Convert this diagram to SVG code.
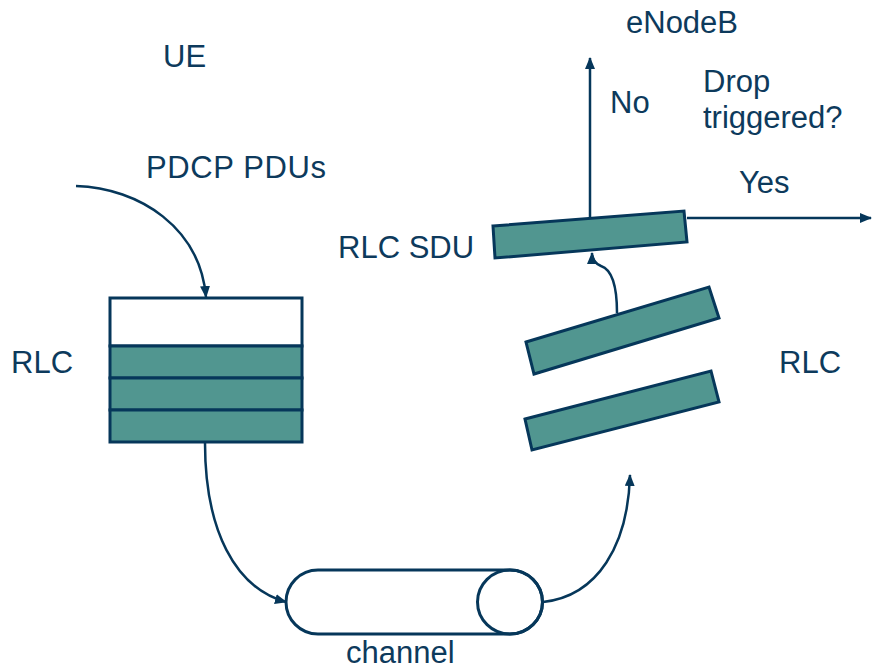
<svg xmlns="http://www.w3.org/2000/svg" width="872" height="669" viewBox="0 0 872 669">
  <style>
    .lbl { font-family: "Liberation Sans", Arial, sans-serif; font-size: 31px; fill: #0d3a5c; }
    .pdu { fill: #519690; stroke: #06375a; stroke-width: 3; stroke-linejoin: miter; }
    .box { fill: #ffffff; stroke: #06375a; stroke-width: 3; }
    .wire { fill: none; stroke: #06375a; stroke-width: 2.5; }
  </style>
  <defs>
    <marker id="arrow" viewBox="0 0 12 10" refX="11" refY="5" markerWidth="12" markerHeight="10" markerUnits="userSpaceOnUse" orient="auto">
      <path d="M0,0 L12,5 L0,10 z" fill="#06375a"/>
    </marker>
  </defs>

  <rect width="872" height="669" fill="#ffffff"/>

  <!-- labels -->
  <g id="labels">
    <text class="lbl" x="163" y="67">UE</text>
    <text class="lbl" x="146" y="178" textLength="180">PDCP PDUs</text>
    <text class="lbl" x="11" y="373">RLC</text>
    <text class="lbl" x="338" y="258">RLC SDU</text>
    <text class="lbl" x="779" y="373">RLC</text>
    <text class="lbl" x="626" y="33">eNodeB</text>
    <text class="lbl" x="610" y="113">No</text>
    <text class="lbl" x="703" y="92">Drop</text>
    <text class="lbl" x="703" y="128">triggered?</text>
    <text class="lbl" x="739" y="193">Yes</text>
    <text class="lbl" x="346" y="663">channel</text>
  </g>

  <!-- UE-side RLC buffer -->
  <g id="ue-buffer">
    <rect class="box" x="110" y="298" width="192" height="48"/>
    <rect class="pdu" x="110" y="346" width="192" height="32"/>
    <rect class="pdu" x="110" y="378" width="192" height="32"/>
    <rect class="pdu" x="110" y="410" width="192" height="32"/>
  </g>

  <!-- radio channel -->
  <g id="channel">
    <path class="box" d="M318,570 L510,570 A32.5,32 0 0 1 510,634 L318,634 A32,32 0 0 1 318,570 Z"/>
    <ellipse cx="510" cy="602" rx="32.5" ry="32" fill="none" stroke="#06375a" stroke-width="3"/>
  </g>

  <!-- eNodeB-side RLC PDUs -->
  <g id="enb-pdu-1">
    <polygon class="pdu" points="525,419 711,371 719,402 532,450"/>
  </g>
  <g id="enb-pdu-2">
    <polygon class="pdu" points="526,342 709,287 719,318 534,374"/>
  </g>
  <g id="rlc-sdu">
    <polygon class="pdu" points="493,226 684,211 687,242 495,258"/>
  </g>

  <!-- connectors -->
  <g id="connectors">
    <path class="wire" d="M76,186 C140,188 200,228 206,297" marker-end="url(#arrow)"/>
    <path class="wire" d="M205,443 C205,530 235,588 286,602" marker-end="url(#arrow)"/>
    <path class="wire" d="M543,602 C598,596 628,545 630,475" marker-end="url(#arrow)"/>
    <path class="wire" d="M617,313 C617,288 613,270 601,266 C594,263 592,259 592,253" marker-end="url(#arrow)"/>
    <path class="wire" d="M590,218 L590,58" marker-end="url(#arrow)"/>
    <path class="wire" d="M687,218 L871,218" marker-end="url(#arrow)"/>
  </g>
</svg>
